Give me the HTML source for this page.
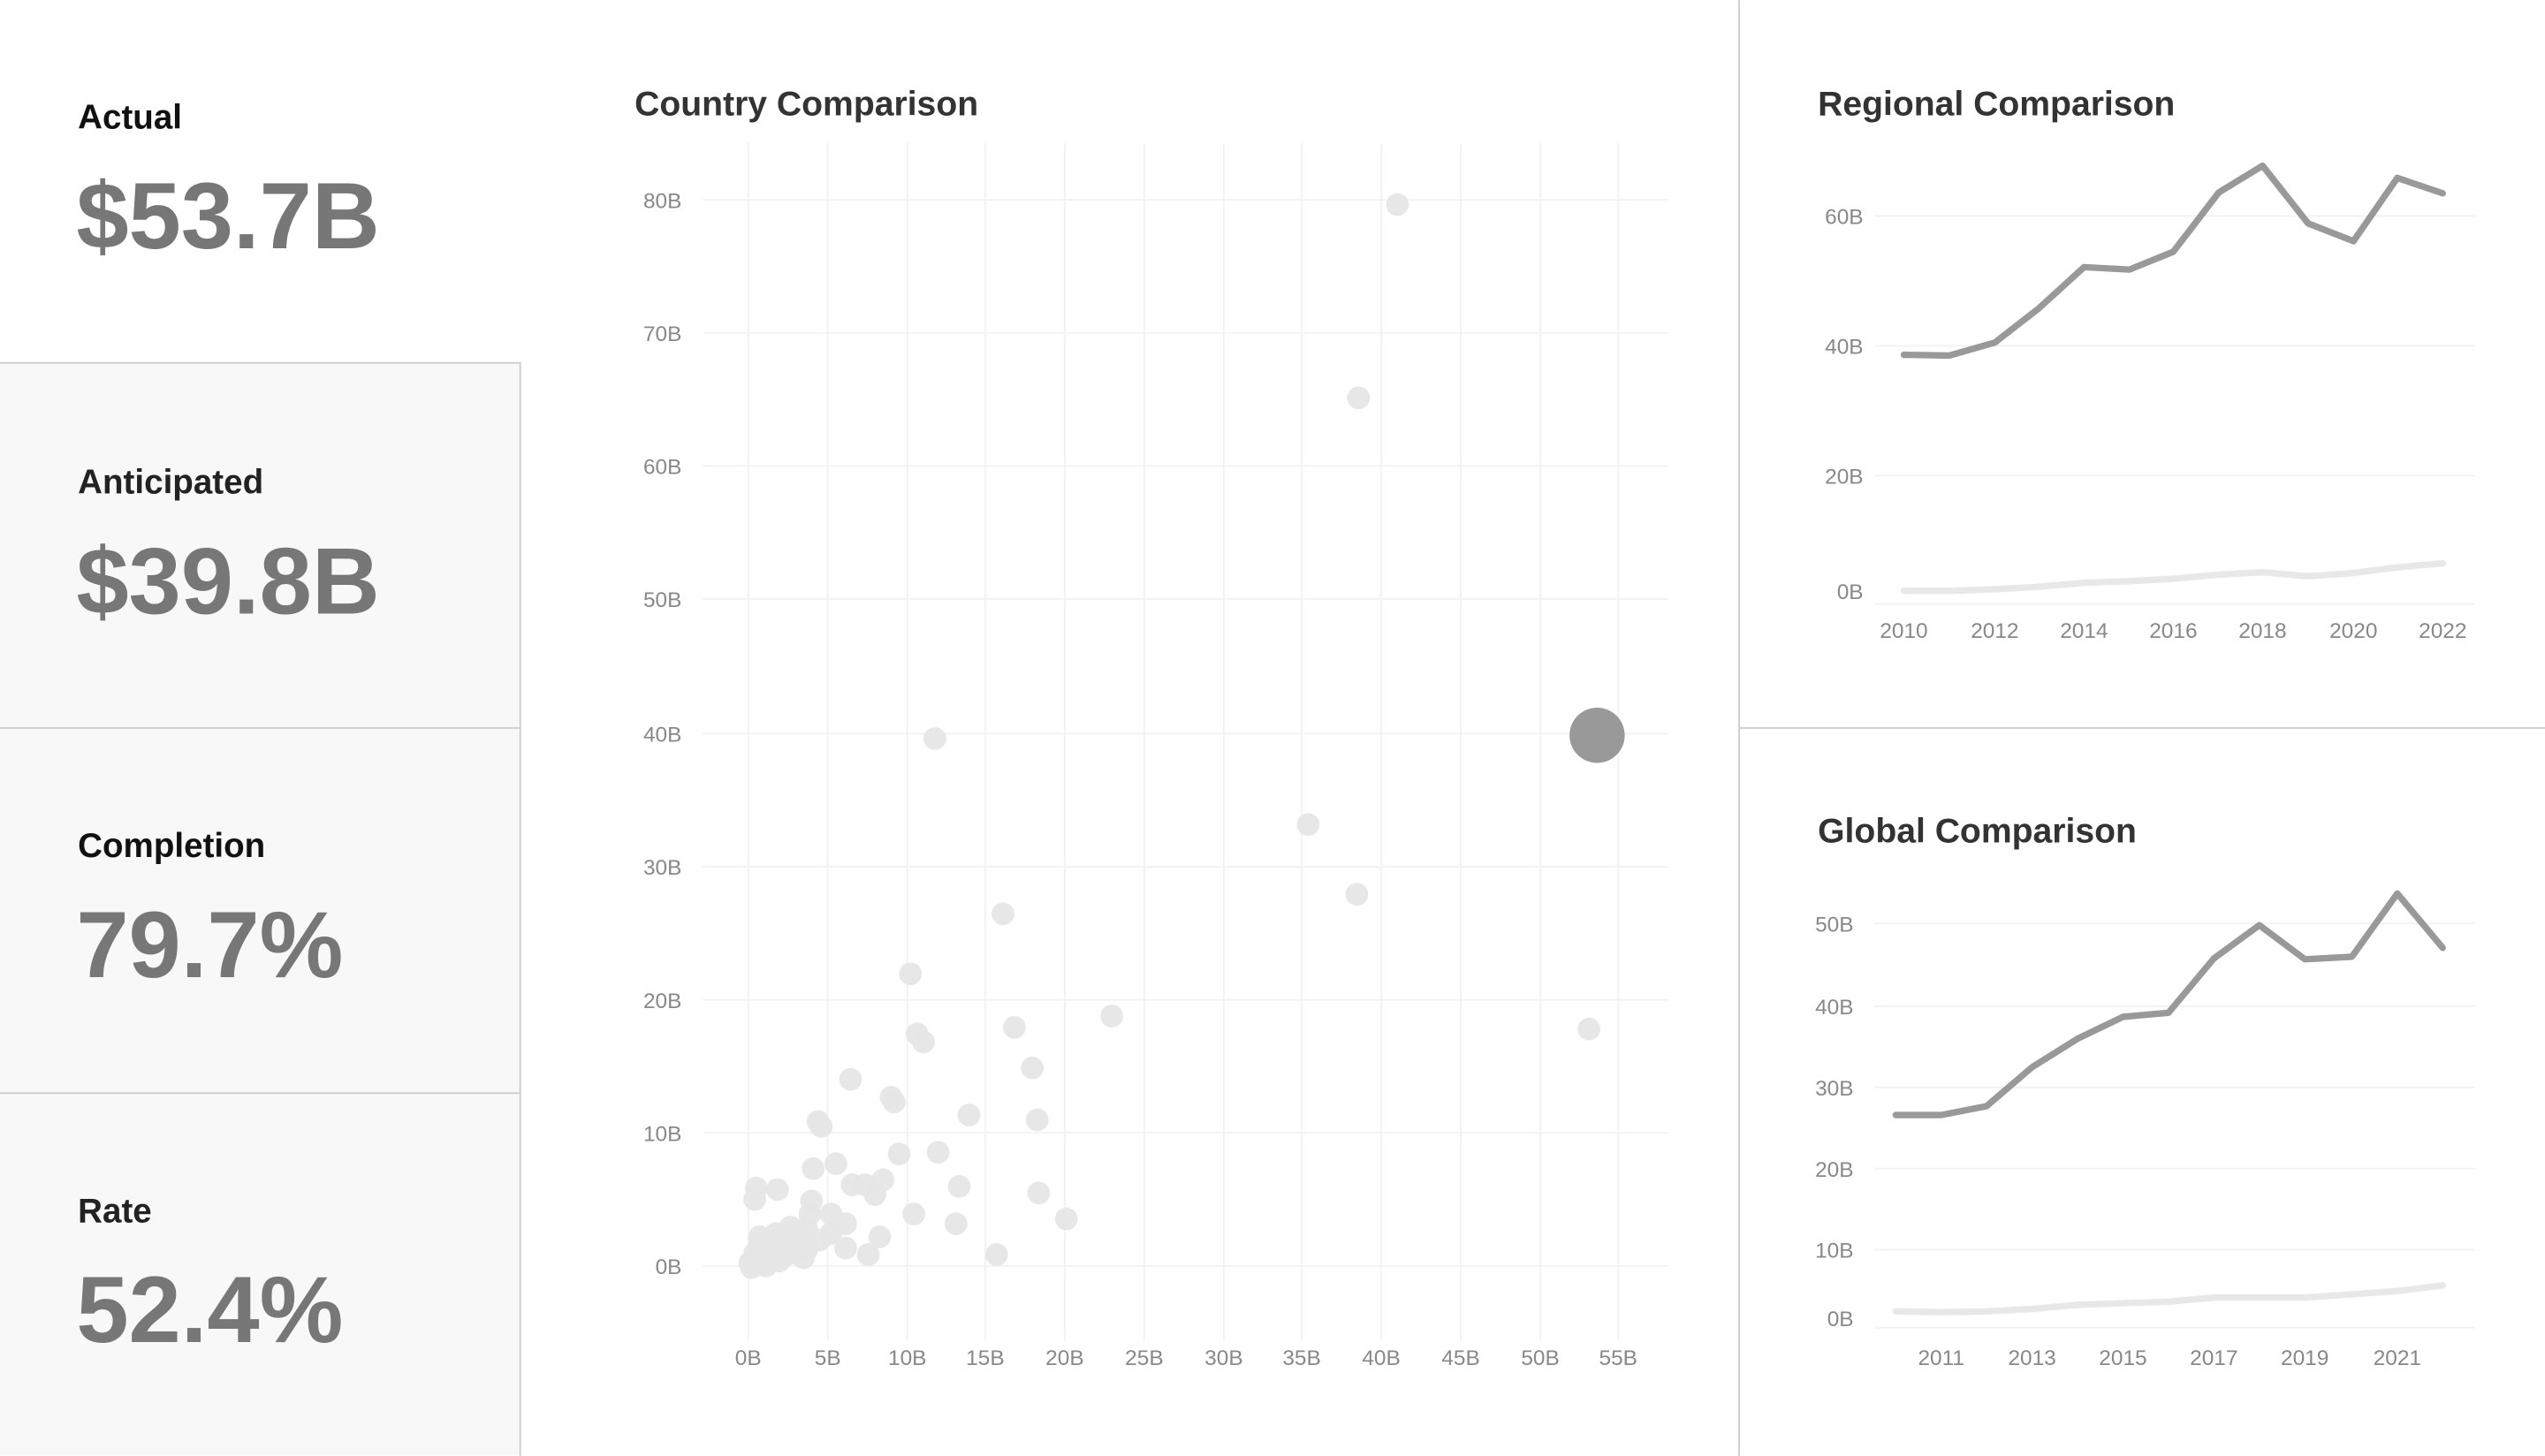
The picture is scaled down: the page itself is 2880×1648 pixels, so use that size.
<!DOCTYPE html>
<html><head><meta charset="utf-8"><style>
html,body{margin:0;padding:0;background:#fff;}
svg{display:block;}
text{font-family:"Liberation Sans",sans-serif;}
</style></head><body>
<svg width="2880" height="1648" viewBox="0 0 1568 897" xmlns="http://www.w3.org/2000/svg">
<rect x="0" y="0" width="1568" height="897" fill="#fff"/>
<rect x="0" y="223" width="320" height="674" fill="#f8f8f8"/>
<g stroke="#cccccc" stroke-width="1">
<line x1="0" y1="223.5" x2="320.5" y2="223.5"/>
<line x1="0" y1="448.5" x2="320.5" y2="448.5"/>
<line x1="0" y1="673.5" x2="320.5" y2="673.5"/>
<line x1="320.5" y1="223" x2="320.5" y2="897"/>
<line x1="1071.5" y1="0" x2="1071.5" y2="897"/>
<line x1="1071" y1="448.5" x2="1568" y2="448.5"/>
</g>
<g font-weight="bold">
<text x="48" y="79" font-size="21" fill="#111">Actual</text>
<text x="47" y="153" font-size="58" fill="#777">$53.7B</text>
<text x="48" y="304" font-size="21" fill="#222">Anticipated</text>
<text x="47" y="378" font-size="58" fill="#777">$39.8B</text>
<text x="48" y="528" font-size="21" fill="#111">Completion</text>
<text x="47" y="602" font-size="58" fill="#777">79.7%</text>
<text x="48" y="753" font-size="21" fill="#222">Rate</text>
<text x="47" y="827" font-size="58" fill="#777">52.4%</text>
<text x="391" y="71" font-size="21.3" fill="#333">Country Comparison</text>
<text x="1120" y="71" font-size="21.3" fill="#333">Regional Comparison</text>
<text x="1120" y="519" font-size="21.3" fill="#333">Global Comparison</text>
</g>
<g stroke="#f2f2f2" stroke-width="1">
<line x1="433" y1="123" x2="1028" y2="123"/><line x1="433" y1="205" x2="1028" y2="205"/>
<line x1="433" y1="287" x2="1028" y2="287"/><line x1="433" y1="369" x2="1028" y2="369"/>
<line x1="433" y1="452" x2="1028" y2="452"/><line x1="433" y1="534" x2="1028" y2="534"/>
<line x1="433" y1="616" x2="1028" y2="616"/><line x1="433" y1="698" x2="1028" y2="698"/>
<line x1="433" y1="780" x2="1028" y2="780"/>
<line x1="461" y1="88" x2="461" y2="826"/><line x1="510" y1="88" x2="510" y2="826"/>
<line x1="559" y1="88" x2="559" y2="826"/><line x1="607" y1="88" x2="607" y2="826"/>
<line x1="656" y1="88" x2="656" y2="826"/><line x1="705" y1="88" x2="705" y2="826"/>
<line x1="754" y1="88" x2="754" y2="826"/><line x1="802" y1="88" x2="802" y2="826"/>
<line x1="851" y1="88" x2="851" y2="826"/><line x1="900" y1="88" x2="900" y2="826"/>
<line x1="949" y1="88" x2="949" y2="826"/><line x1="997" y1="88" x2="997" y2="826"/>
</g>
<g font-size="13.3" fill="#888" text-anchor="end">
<text x="420" y="128">80B</text><text x="420" y="210">70B</text><text x="420" y="292">60B</text>
<text x="420" y="374">50B</text><text x="420" y="457">40B</text><text x="420" y="539">30B</text>
<text x="420" y="621">20B</text><text x="420" y="703">10B</text><text x="420" y="785">0B</text>
</g>
<g font-size="13.3" fill="#888" text-anchor="middle">
<text x="461" y="841">0B</text><text x="510" y="841">5B</text><text x="559" y="841">10B</text>
<text x="607" y="841">15B</text><text x="656" y="841">20B</text><text x="705" y="841">25B</text>
<text x="754" y="841">30B</text><text x="802" y="841">35B</text><text x="851" y="841">40B</text>
<text x="900" y="841">45B</text><text x="949" y="841">50B</text><text x="997" y="841">55B</text>
</g>
<g fill="#e6e6e6" fill-opacity="0.95">
<circle cx="861" cy="126" r="7"/><circle cx="837" cy="245" r="7"/><circle cx="576" cy="455" r="7"/>
<circle cx="806" cy="508" r="7"/><circle cx="836" cy="551" r="7"/><circle cx="618" cy="563" r="7"/>
<circle cx="979" cy="634" r="7"/><circle cx="685" cy="626" r="7"/><circle cx="561" cy="600" r="7"/>
<circle cx="565" cy="637" r="7"/><circle cx="569" cy="642" r="7"/><circle cx="625" cy="633" r="7"/>
<circle cx="636" cy="658" r="7"/><circle cx="524" cy="665" r="7"/><circle cx="549" cy="676" r="7"/>
<circle cx="551" cy="679" r="7"/><circle cx="504" cy="691" r="7"/><circle cx="506" cy="694" r="7"/>
<circle cx="597" cy="687" r="7"/><circle cx="639" cy="690" r="7"/><circle cx="578" cy="710" r="7"/>
<circle cx="554" cy="711" r="7"/><circle cx="515" cy="717" r="7"/><circle cx="501" cy="720" r="7"/>
<circle cx="544" cy="727" r="7"/><circle cx="525" cy="730" r="7"/><circle cx="533" cy="730" r="7"/>
<circle cx="591" cy="731" r="7"/><circle cx="640" cy="735" r="7"/><circle cx="466" cy="732" r="7"/>
<circle cx="479" cy="733" r="7"/><circle cx="465" cy="739" r="7"/><circle cx="539" cy="736" r="7"/>
<circle cx="500" cy="740" r="7"/><circle cx="563" cy="748" r="7"/><circle cx="657" cy="751" r="7"/>
<circle cx="589" cy="754" r="7"/><circle cx="499" cy="748" r="7"/><circle cx="512" cy="748" r="7"/>
<circle cx="521" cy="754" r="7"/><circle cx="497" cy="757" r="7"/><circle cx="542" cy="762" r="7"/>
<circle cx="614" cy="773" r="7"/><circle cx="521" cy="769" r="7"/><circle cx="535" cy="773" r="7"/>
<circle cx="462" cy="778" r="7"/><circle cx="465" cy="772" r="7"/><circle cx="468" cy="766" r="7"/>
<circle cx="470" cy="775" r="7"/><circle cx="475" cy="770" r="7"/><circle cx="478" cy="760" r="7"/>
<circle cx="480" cy="777" r="7"/><circle cx="485" cy="768" r="7"/><circle cx="488" cy="772" r="7"/>
<circle cx="492" cy="765" r="7"/><circle cx="495" cy="775" r="7"/><circle cx="472" cy="780" r="7"/>
<circle cx="466" cy="776" r="7"/><circle cx="483" cy="774" r="7"/><circle cx="490" cy="760" r="7"/>
<circle cx="477" cy="765" r="7"/><circle cx="468" cy="762" r="7"/><circle cx="497" cy="770" r="7"/>
<circle cx="463" cy="781" r="7"/><circle cx="470" cy="779" r="7"/><circle cx="505" cy="764" r="7"/>
<circle cx="487" cy="756" r="7"/><circle cx="512" cy="760" r="7"/>
</g>
<circle cx="984" cy="453" r="17" fill="#999"/>
<g stroke="#f2f2f2" stroke-width="1">
<line x1="1155" y1="133" x2="1525" y2="133"/><line x1="1155" y1="213" x2="1525" y2="213"/>
<line x1="1155" y1="293" x2="1525" y2="293"/><line x1="1155" y1="372" x2="1525" y2="372"/>
</g>
<g font-size="13.3" fill="#888" text-anchor="end">
<text x="1148" y="138">60B</text><text x="1148" y="218">40B</text><text x="1148" y="298">20B</text><text x="1148" y="369">0B</text>
</g>
<g font-size="13.3" fill="#888" text-anchor="middle">
<text x="1173" y="393">2010</text><text x="1229" y="393">2012</text><text x="1284" y="393">2014</text>
<text x="1339" y="393">2016</text><text x="1394" y="393">2018</text><text x="1450" y="393">2020</text><text x="1505" y="393">2022</text>
</g>
<polyline fill="none" stroke="#e8e8e8" stroke-width="4" stroke-linejoin="round" stroke-linecap="round"
points="1173,364 1201,364 1229,363 1256,361.5 1284,359 1312,358 1339,356.5 1367,354 1394,352.5 1422,355 1450,353 1477,349.5 1505,347"/>
<polyline fill="none" stroke="#999" stroke-width="4" stroke-linejoin="round" stroke-linecap="round"
points="1173,218.5 1201,219 1229,211 1256,190 1284,164.5 1312,166 1339,155 1367,118.5 1394,102 1422,137.5 1450,148.5 1477,109.5 1505,119"/>
<g stroke="#f2f2f2" stroke-width="1">
<line x1="1155" y1="569" x2="1525" y2="569"/><line x1="1155" y1="620" x2="1525" y2="620"/>
<line x1="1155" y1="670" x2="1525" y2="670"/><line x1="1155" y1="720" x2="1525" y2="720"/>
<line x1="1155" y1="770" x2="1525" y2="770"/><line x1="1155" y1="818" x2="1525" y2="818"/>
</g>
<g font-size="13.3" fill="#888" text-anchor="end">
<text x="1142" y="574">50B</text><text x="1142" y="625">40B</text><text x="1142" y="675">30B</text>
<text x="1142" y="725">20B</text><text x="1142" y="775">10B</text><text x="1142" y="817">0B</text>
</g>
<g font-size="13.3" fill="#888" text-anchor="middle">
<text x="1196" y="841">2011</text><text x="1252" y="841">2013</text><text x="1308" y="841">2015</text>
<text x="1364" y="841">2017</text><text x="1420" y="841">2019</text><text x="1477" y="841">2021</text>
</g>
<polyline fill="none" stroke="#e8e8e8" stroke-width="4" stroke-linejoin="round" stroke-linecap="round"
points="1168,808 1196,808.5 1224,808 1252,806.5 1280,804 1308,803 1336,802 1364,799.5 1392,799.5 1420,799.5 1449,797.5 1477,795.5 1505,792"/>
<polyline fill="none" stroke="#999" stroke-width="4" stroke-linejoin="round" stroke-linecap="round"
points="1168,687 1196,687 1224,681.5 1252,657.5 1280,640 1308,626.5 1336,624 1364,590.5 1392,570 1420,591 1449,589.5 1477,550.5 1505,584"/>
</svg>
</body></html>
